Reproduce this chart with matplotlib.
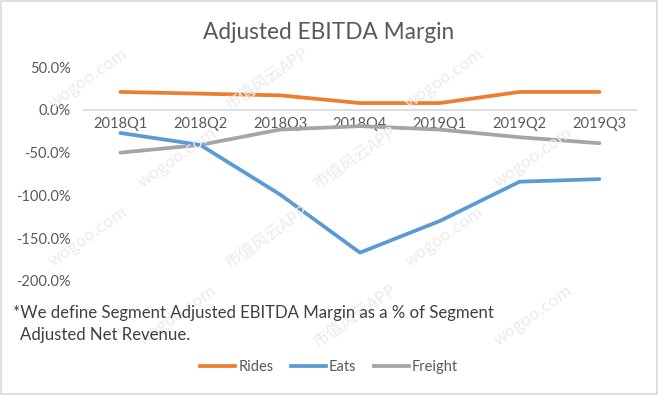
import matplotlib.pyplot as plt
from matplotlib.patches import Rectangle
from matplotlib.lines import Line2D
from matplotlib.ticker import FuncFormatter

# Data (margin in %)
quarters = ["2018Q1", "2018Q2", "2018Q3", "2018Q4", "2019Q1", "2019Q2", "2019Q3"]
rides = [21, 19, 17, 8, 8, 21, 21]
eats = [-27, -41, -99, -167, -130, -84, -81]
freight = [-50, -41, -23, -19, -23, -32, -39]

colors = {"Rides": "#ED7D31", "Eats": "#5B9BD5", "Freight": "#A5A5A5"}
text_color = "#595959"

plt.rcParams["font.family"] = ["Lato", "DejaVu Sans"]

fig = plt.figure(figsize=(6.58, 3.95), dpi=100)

# light watermark in the background (only where it fits inside the picture)
wm_font = ["Noto Sans CJK SC", "DejaVu Sans"]
for row in range(-1, 6):
    for col in range(-1, 5):
        x = col * 0.27 + (row % 2) * 0.135
        y = 1.0 - row * 0.2
        if not (0.09 < x < 0.91 and 0.12 < y < 0.88):
            continue
        label = "市值风云APP" if (row + col) % 2 == 0 else "wogoo.com"
        fig.text(x, y, label, rotation=35, fontsize=12, color="#EBEBEB",
                 family=wm_font, ha="center", va="center", zorder=0)

ax = fig.add_axes([0.126, 0.289, 0.842, 0.541])
ax.patch.set_alpha(0)
x = range(len(quarters))
ax.plot(x, freight, color=colors["Freight"], lw=2.7, solid_capstyle="round", zorder=3)
ax.plot(x, eats, color=colors["Eats"], lw=2.7, solid_capstyle="round", zorder=4)
ax.plot(x, rides, color=colors["Rides"], lw=2.7, solid_capstyle="round", zorder=5)

ax.set_xlim(-0.47, len(quarters) - 0.53)
ax.set_ylim(-200, 50)
ax.set_yticks([50, 0, -50, -100, -150, -200])
ax.yaxis.set_major_formatter(FuncFormatter(lambda v, p: f"{v:.1f}%"))
ax.tick_params(axis="y", length=0, labelsize=10.5, labelcolor=text_color, pad=9)
ax.set_xticks([])
ax.axhline(0, color="#D9D9D9", lw=1.2, zorder=1)
for s in ax.spines.values():
    s.set_visible(False)

# category labels sit just below the zero line
for i, q in enumerate(quarters):
    ax.text(i, -8, q, ha="center", va="top", fontsize=10.5, color=text_color, zorder=2)

fig.text(0.5, 0.918, "Adjusted EBITDA Margin", ha="center", va="center",
         fontsize=16.3, color=text_color)

fig.text(0.02, 0.208, "*We define Segment Adjusted EBITDA Margin as a % of Segment",
         fontsize=12.1, color="#404040", va="center")
fig.text(0.03, 0.152, "Adjusted Net Revenue.", fontsize=12.1, color="#404040", va="center")

handles = [Line2D([], [], color=colors[k], lw=2.7) for k in ["Rides", "Eats", "Freight"]]
fig.legend(handles, ["Rides", "Eats", "Freight"], loc="center", bbox_to_anchor=(0.5, 0.07),
           ncol=3, frameon=False, fontsize=10.5, handlelength=2.4, handletextpad=0.2,
           columnspacing=1.2, labelcolor=text_color)

fig.patches.append(Rectangle((0.002, 0.003), 0.996, 0.994, transform=fig.transFigure,
                             fill=False, edgecolor="#D9D9D9", lw=1.2))

fig.savefig("out.png", dpi=100)
